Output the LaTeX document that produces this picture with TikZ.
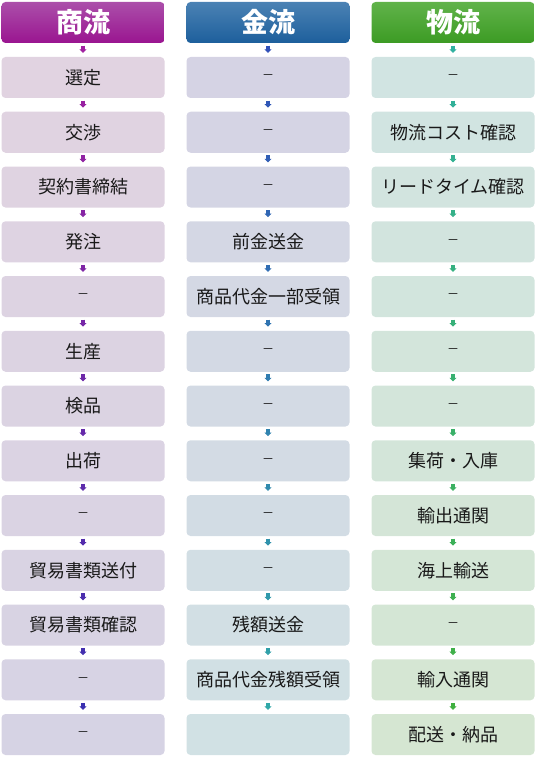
\documentclass[tikz,border=0pt]{standalone}
\usepackage{fontspec}
\setmainfont{Noto Sans CJK JP}
\usepackage{xcolor}
\usetikzlibrary{arrows.meta}

\definecolor{shoA}{HTML}{E1D3E1}
\definecolor{shoB}{HTML}{D6D3E4}
\definecolor{kinA}{HTML}{D5D3E4}
\definecolor{kinB}{HTML}{D1E1E4}
\definecolor{butA}{HTML}{D1E4E2}
\definecolor{butB}{HTML}{D5E6D2}
\definecolor{sarA}{HTML}{A020A0}
\definecolor{sarB}{HTML}{3A30B0}
\definecolor{karA}{HTML}{3050B8}
\definecolor{karB}{HTML}{30A8A8}
\definecolor{barA}{HTML}{30B0A0}
\definecolor{barB}{HTML}{40B040}
\definecolor{shoTop}{HTML}{AB4FAA}
\definecolor{shoBot}{HTML}{9A1590}
\definecolor{kinTop}{HTML}{4B82B4}
\definecolor{kinBot}{HTML}{1D5F9C}
\definecolor{butTop}{HTML}{61B34A}
\definecolor{butBot}{HTML}{3C9B24}

% short dash for an empty step
\newcommand{\nostep}{{\fontsize{12}{14}\selectfont －}}

\begin{document}
\begin{tikzpicture}[x=1pt, y=-1pt,
				box/.style={rectangle, rounded corners=4pt, minimum width=163pt,
					minimum height=41pt, inner sep=0pt, text=black!90,
					font=\fontsize{18}{20}\selectfont},
				head/.style={box, text=white, font=\fontsize{27}{29}\selectfont\bfseries},
				flow/.style={line width=3.5pt, -{Triangle[length=3.5pt,width=7pt]},
					shorten <=2.5pt, shorten >=4pt}]
				\useasboundingbox (0,0) rectangle (536,757);
				% headers
				\node at (83,22.5) (sh) [head, top color=shoTop, bottom color=shoBot] {商流};
				\node at (268,22.5) (kh) [head, top color=kinTop, bottom color=kinBot] {金流};
				\node at (453,22.5) (bh) [head, top color=butTop, bottom color=butBot] {物流};
				% 商流
				\foreach \txt [count=\i] in {選定, 交渉, 契約書締結, 発注, \nostep, 生産, 検品, 出荷, \nostep, 貿易書類送付, 貿易書類確認, \nostep, \nostep} {
					\pgfmathtruncatemacro\pct{(\i-1)*100/12}
					\node at (83,{77.5+(\i-1)*54.75}) (s\i) [box, fill=shoB!\pct!shoA] {\txt};
				}
				% 金流
				\foreach \txt [count=\i] in {\nostep, \nostep, \nostep, 前金送金, 商品代金一部受領, \nostep, \nostep, \nostep, \nostep, \nostep, 残額送金, 商品代金残額受領, {}} {
					\pgfmathtruncatemacro\pct{(\i-1)*100/12}
					\node at (268,{77.5+(\i-1)*54.75}) (k\i) [box, fill=kinB!\pct!kinA] {\txt};
				}
				% 物流
				\foreach \txt [count=\i] in {\nostep, 物流コスト確認, リードタイム確認, \nostep, \nostep, \nostep, \nostep, 集荷・入庫, 輸出通関, 海上輸送, \nostep, 輸入通関, 配送・納品} {
					\pgfmathtruncatemacro\pct{(\i-1)*100/12}
					\node at (453,{77.5+(\i-1)*54.75}) (b\i) [box, fill=butB!\pct!butA] {\txt};
				}
				% arrows
				\draw[flow, draw=sarA] (sh) -- (s1);
				\draw[flow, draw=karA] (kh) -- (k1);
				\draw[flow, draw=barA] (bh) -- (b1);
				\foreach \i in {1,...,12} {
					\pgfmathtruncatemacro\n{\i+1}
					\pgfmathtruncatemacro\pct{\i*100/12}
					\draw[flow, draw=sarB!\pct!sarA] (s\i) -- (s\n);
					\draw[flow, draw=karB!\pct!karA] (k\i) -- (k\n);
					\draw[flow, draw=barB!\pct!barA] (b\i) -- (b\n);
				}
			\end{tikzpicture}
\end{document}
